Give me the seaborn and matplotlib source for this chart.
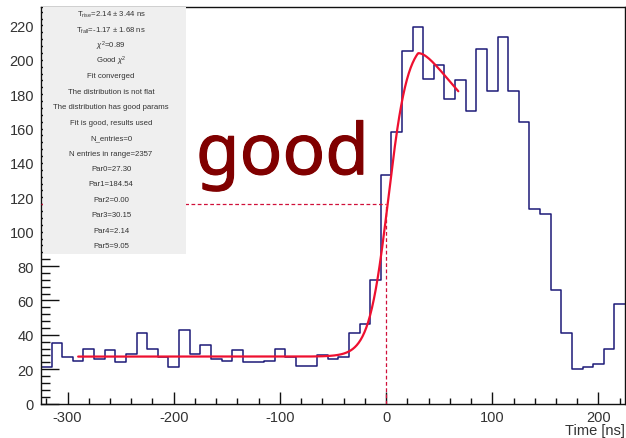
import numpy as np
import pandas as pd
import matplotlib
matplotlib.use("Agg")
import matplotlib.pyplot as plt
import matplotlib.patheffects as pe
from matplotlib.patches import Rectangle
from matplotlib.ticker import MultipleLocator
import seaborn as sns

# Histogram: 10 ns bins from -325 to 225 ns
bin_edges = list(range(-325, 226, 10))
counts = [21, 35, 27, 25, 32, 26, 31, 24, 29, 41,
          32, 27, 21, 43, 29, 34, 26, 25, 31, 24,
          24, 25, 32, 27, 22, 22, 28, 26, 27, 41,
          46, 72, 133, 158, 205, 219, 189, 197, 177, 188,
          170, 206, 182, 213, 182, 164, 113, 110, 66, 41,
          20, 21, 23, 32, 58]

# Fit parameters (Fermi rise with a slow tail after the turnover)
par = [27.30, 184.54, 0.00, 30.15, 2.14, 9.05]
tail_tau = 213.0
fit_range = (-290, 68)

# Marker drawn at the rise point of the fit
mark_x, mark_y = 0.0, 116.0

# Verdict label position (data coordinates, baseline-left)
verdict_text = "good"
verdict_pos = (-179.0, 133.4)

stats_lines = [
    r"T$_{\rm rise}$=2.14 $\pm$ 3.44 ns",
    r"T$_{\rm fall}$=-1.17 $\pm$ 1.68 ns",
    r"$\chi^{2}$=0.89",
    r"Good $\chi^{2}$",
    "Fit converged",
    "The distribution is not flat",
    "The distribution has good params",
    "Fit is good, results used",
    "N_entries=0",
    "N entries in range=2357",
    "Par0=27.30",
    "Par1=184.54",
    "Par2=0.00",
    "Par3=30.15",
    "Par4=2.14",
    "Par5=9.05",
]


def fit_func(x):
    p0, p1, p2, p3, p4, p5 = par
    rise = 1.0 / (1.0 + np.exp(-(x - p4) / p5))
    tail = np.exp(-np.clip(x - p3, 0, None) / tail_tau)
    return p0 + p1 * rise * tail + p2 * x


sns.set_style("ticks")
plt.rcParams["font.family"] = ["Liberation Sans", "DejaVu Sans"]
plt.rcParams["axes.unicode_minus"] = False
plt.rcParams["mathtext.fontset"] = "custom"
plt.rcParams["mathtext.rm"] = "Liberation Sans"
plt.rcParams["mathtext.it"] = "Liberation Sans:italic"

fig = plt.figure(figsize=(6.26, 4.39), dpi=100)
ax = fig.add_axes([41 / 626, (439 - 404.5) / 439, 584 / 626, 397 / 439])

centers = [e + 5 for e in bin_edges[:-1]]
hist_df = pd.DataFrame({"time": centers, "n": counts})
sns.histplot(data=hist_df, x="time", weights="n", bins=bin_edges,
             element="step", fill=False, color="#1c1a78", linewidth=1.1,
             ax=ax, zorder=2)

xf = np.linspace(fit_range[0], fit_range[1], 600)
fit_df = pd.DataFrame({"time": xf, "fit": fit_func(xf)})
sns.lineplot(data=fit_df, x="time", y="fit", color="#ee1030", linewidth=1.6,
             ax=ax, zorder=3)

# Dashed guides at the rise point
ax.plot([-325, mark_x], [mark_y, mark_y], color="#d0103a", lw=0.9,
        dashes=(3, 2), zorder=2.8)
ax.plot([mark_x, mark_x], [0, mark_y], color="#d0103a", lw=0.9,
        dashes=(3, 2), zorder=2.8)

ax.set_xlim(-325, 225)
ax.set_ylim(0, 231)
ax.set_xlabel("")
ax.set_ylabel("")

ax.xaxis.set_major_locator(MultipleLocator(100))
ax.xaxis.set_minor_locator(MultipleLocator(20))
ax.yaxis.set_major_locator(MultipleLocator(20))
ax.yaxis.set_minor_locator(MultipleLocator(4))
ax.tick_params(axis="x", which="major", direction="in", length=8.6, width=1.0,
               labelsize=10.5, pad=5, colors="#111", labelcolor="#333")
ax.tick_params(axis="x", which="minor", direction="in", length=4.3, width=1.0,
               colors="#111")
ax.tick_params(axis="y", which="major", direction="in", length=12.6, width=1.0,
               labelsize=10.5, pad=5, colors="#111", labelcolor="#333")
ax.tick_params(axis="y", which="minor", direction="in", length=6.3, width=1.0,
               colors="#111")
for side in ["top", "right", "bottom", "left"]:
    ax.spines[side].set_visible(True)
    ax.spines[side].set_linewidth(1.0)
    ax.spines[side].set_color("#111")

ax.text(1.0, -0.068, "Time [ns]", transform=ax.transAxes, ha="right",
        va="center", fontsize=10.5, color="#333")

# Statistics panel
ax.add_patch(Rectangle((0.003, 0.377), 0.245, 0.621, transform=ax.transAxes,
                       facecolor="#efefef", edgecolor="none", zorder=4,
                       clip_on=False))
for i, line in enumerate(stats_lines):
    ypx = 15.0 + i * 15.45
    ax.text(0.12, (404.5 - ypx) / 397, line, transform=ax.transAxes,
            ha="center", va="center", fontsize=5.6, color="#333", zorder=5)

ax.text(verdict_pos[0], verdict_pos[1], verdict_text, fontsize=51,
        color="#800000", family=["Noto Sans", "DejaVu Sans"], ha="left",
        va="baseline", zorder=5,
        path_effects=[pe.withStroke(linewidth=0.8, foreground="#800000")])

fig.savefig("out.png", dpi=100)
